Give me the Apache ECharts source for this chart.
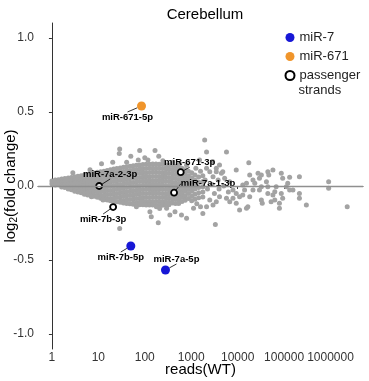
<!DOCTYPE html>
<html><head><meta charset="utf-8">
<script src="https://cdn.jsdelivr.net/npm/echarts@6/dist/echarts.min.js"></script>
<style>html,body{margin:0;padding:0;background:#fff}#c{width:369px;height:381px}</style>
</head><body><div id="c"></div>
<script>
// ---- tick labels ----
const xTickReads = [1, 10, 100, 1000, 10000, 100000, 1000000];
const yTicks = [-1.0, -0.5, 0.0, 0.5, 1.0];

// ---- grey (all miRNAs): dense core, read column by column ----
const greyColumnReads = [1.0,1.18,1.38,1.62,1.9,2.24,2.63,3.09,3.63,4.27,5.0,5.9,6.9,8.1,9.5,11.2,13.2,15.5,18.2,21.4,25,29.5,34.7,40.7,47.9,56.2,66,77.6,91.2,107,126,148,174,204,240,282,331,389,457,537,631,741,871,1023,1202,1445,1778];
const greyColumnFC = [
 [0.034,0.016],
 [0.04,0.022,0.006],
 [0.043,0.025,0.008],
 [0.047,0.027,0.007,-0.006],
 [0.05,0.03,0.01,-0.01],
 [0.054,0.033,0.012,-0.009,-0.02],
 [0.058,0.036,0.014,-0.008,-0.025],
 [0.062,0.04,0.018,-0.004,-0.026,-0.035],
 [0.066,0.043,0.02,-0.003,-0.026,-0.04],
 [0.07,0.046,0.022,-0.002,-0.026,-0.046],
 [0.074,0.05,0.026,0.002,-0.022,-0.046,-0.055],
 [0.078,0.054,0.03,0.006,-0.018,-0.042,-0.06],
 [0.083,0.058,0.033,0.008,-0.017,-0.042,-0.064],
 [0.088,0.063,0.038,0.013,-0.012,-0.037,-0.062,-0.07],
 [0.092,0.066,0.04,0.014,-0.012,-0.038,-0.064,-0.076],
 [0.097,0.07,0.043,0.016,-0.011,-0.038,-0.065,-0.082],
 [0.1,0.073,0.046,0.019,-0.008,-0.035,-0.062,-0.089],
 [0.105,0.078,0.051,0.024,-0.003,-0.03,-0.057,-0.084,-0.095],
 [0.11,0.082,0.054,0.026,-0.002,-0.03,-0.058,-0.086,-0.1],
 [0.114,0.086,0.058,0.03,0.002,-0.026,-0.054,-0.082,-0.105],
 [0.118,0.09,0.062,0.034,0.006,-0.022,-0.05,-0.078,-0.106],
 [0.122,0.094,0.066,0.038,0.01,-0.018,-0.046,-0.074,-0.102,-0.11],
 [0.126,0.098,0.07,0.042,0.014,-0.014,-0.042,-0.07,-0.098,-0.115],
 [0.13,0.102,0.074,0.046,0.018,-0.01,-0.038,-0.066,-0.094,-0.118],
 [0.133,0.105,0.077,0.049,0.021,-0.007,-0.035,-0.063,-0.091,-0.119],
 [0.136,0.108,0.08,0.052,0.024,-0.004,-0.032,-0.06,-0.088,-0.116,-0.124],
 [0.14,0.112,0.084,0.056,0.028,0.0,-0.028,-0.056,-0.084,-0.112,-0.125],
 [0.142,0.114,0.086,0.058,0.03,0.002,-0.026,-0.054,-0.082,-0.11,-0.126],
 [0.145,0.117,0.089,0.061,0.033,0.005,-0.023,-0.051,-0.079,-0.107,-0.127],
 [0.146,0.118,0.09,0.062,0.034,0.006,-0.022,-0.05,-0.078,-0.106,-0.128],
 [0.147,0.119,0.091,0.063,0.035,0.007,-0.021,-0.049,-0.077,-0.105,-0.128],
 [0.148,0.12,0.092,0.064,0.036,0.008,-0.02,-0.048,-0.076,-0.104,-0.128],
 [0.148,0.12,0.092,0.064,0.036,0.008,-0.02,-0.048,-0.076,-0.104,-0.13],
 [0.147,0.119,0.091,0.063,0.035,0.007,-0.021,-0.049,-0.077,-0.105,-0.13],
 [0.146,0.118,0.09,0.062,0.034,0.006,-0.022,-0.05,-0.078,-0.106,-0.13],
 [0.144,0.116,0.088,0.06,0.032,0.004,-0.024,-0.052,-0.08,-0.108,-0.128],
 [0.142,0.114,0.086,0.058,0.03,0.002,-0.026,-0.054,-0.082,-0.11,-0.126],
 [0.138,0.11,0.082,0.054,0.026,-0.002,-0.03,-0.058,-0.086,-0.114],
 [0.134,0.106,0.078,0.05,0.022,-0.006,-0.034,-0.062,-0.09,-0.118],
 [0.128,0.1,0.072,0.044,0.016,-0.012,-0.04,-0.068,-0.096,-0.118],
 [0.12,0.092,0.064,0.036,0.008,-0.02,-0.048,-0.076,-0.104],
 [0.11,0.08,0.05,0.022,-0.008,-0.036,-0.066,-0.096],
 [0.1,0.068,0.04,0.01,-0.02,-0.05,-0.085],
 [0.09,0.055,0.025,-0.005,-0.035,-0.07,-0.1],
 [0.075,0.04,0.01,-0.02,-0.055,-0.09],
 [0.06,0.025,-0.01,-0.045,-0.08],
 [0.07,0.03,-0.005,-0.04,-0.075]
];
// ---- grey: scattered points [reads, log2FC] ----
const greyScattered = [
 [1950,0.31],[2140,0.23],[28.8,0.25],[28.2,0.22],[77.6,0.24],[166,0.24],[72.4,0.175],[11.7,0.15],[20.4,0.16],[40.7,0.16],
 [117,0.175],[245,0.17],[1510,0.175],[2880,0.165],[3470,0.12],[2140,0.12],[2.82,0.09],[6.6,0.11],[5750,0.23],[17400,0.157],
 [44700,0.097],[46800,0.074],[32400,0.074],[29500,0.052],[87100,0.086],[93300,0.052],[131800,0.059],[120000,0.018],[131800,-0.027],[155000,-0.027],
 [214000,-0.05],[214000,-0.083],[302000,-0.128],[912000,0.029],[912000,-0.016],[2290000,-0.14],[87100,-0.05],[93300,-0.083],[79400,-0.117],[79400,-0.15],
 [63100,-0.095],[52500,-0.106],[57500,-0.061],[44700,-0.05],[32400,-0.005],[29500,-0.027],[32400,-0.095],[33900,-0.117],[21400,-0.027],[23400,0.018],
 [16600,-0.14],[15500,-0.15],[11000,-0.162],[9330,-0.117],[6760,-0.106],[18200,-0.072],[12900,-0.061],[14100,-0.027],[12900,0.007],[21400,0.04],
 [1780,-0.185],[3310,-0.26],[4070,0.142],[4790,0.097],[2510,0.097],[2950,0.063],[3470,0.097],[4470,0.086],[5250,0.052],[6760,0.029],
 [7940,-0.027],[9330,-0.05],[11000,-0.072],[7940,-0.083],[5750,-0.083],[4070,-0.072],[3470,-0.106],[2510,-0.095],[2140,-0.14],[2950,-0.128],
 [15500,0.018],[18200,0.074],[27500,0.086],[41700,0.029],[44700,-0.005],[67600,-0.005],[112000,-0.005],[63100,-0.038],[57500,0.108],[214000,0.063],
 [9330,0.108],[28.8,-0.286],[129,-0.174],[138,-0.207],[195,-0.248],[209,-0.151],[347,-0.196],[447,-0.174],[617,-0.196],[794,-0.218],
 [295,-0.15],[7.1,-0.072],[12.6,-0.095],[66,-0.14],[178,-0.14],[50,0.2],[100,0.19],[200,0.2],[398,0.16],[562,0.15],
 [794,0.14],[1260,0.12],[1585,0.1],[1995,0.04],[2240,-0.02],[2820,0.01],[3160,-0.05],[3980,-0.02],[5010,0.0],[6310,-0.04],
 [3800,0.04],[1318,-0.12],[1585,-0.14],[1122,-0.15]
];

// ---- highlighted miRNAs ----
const mir7Names = ['miR-7b-5p', 'miR-7a-5p'];
const mir7Reads = [50, 279];
const mir7FC = [-0.405, -0.567];
const mir671Names = ['miR-671-5p'];
const mir671Reads = [85];
const mir671FC = [0.54];
const passengerNames = ['miR-7a-2-3p', 'miR-7b-3p', 'miR-671-3p', 'miR-7a-1-3p'];
const passengerReads = [10.4, 20.8, 594, 427];
const passengerFC = [0.0, -0.142, 0.093, -0.045];

// label placement (pixel offsets of each label centre from its point)
const labelOffsets = {
  'miR-671-5p': [-14, 11], 'miR-7b-5p': [-10, 11], 'miR-7a-5p': [11, -11],
  'miR-7a-2-3p': [11, -12], 'miR-7b-3p': [-10, 12], 'miR-671-3p': [9, -10], 'miR-7a-1-3p': [34, -9]
};

const FONT = 'Liberation Sans, Arial, Helvetica, sans-serif';
const lg = v => Math.log10(v);

const greyData = [];
greyColumnReads.forEach((r, i) => greyColumnFC[i].forEach(fc => greyData.push([lg(r), fc])));
greyScattered.forEach(p => greyData.push([lg(p[0]), p[1]]));

function pts(names, reads, fc) {
  return names.map((n, i) => ({ name: n, value: [lg(reads[i]), fc[i]] }));
}
function layoutFor(names) {
  return function (p) {
    const o = labelOffsets[names[p.dataIndex]];
    return { dx: o[0], dy: o[1] };
  };
}
const labelStyle = { show: true, position: 'inside', formatter: '{b}', color: '#000', fontWeight: 'bold', fontSize: 9.5, fontFamily: FONT };
const labelLineStyle = { show: true, lineStyle: { color: '#000', width: 0.8 } };

const chart = echarts.init(document.getElementById('c'), null, { renderer: 'canvas' });
chart.setOption({
  animation: false,
  backgroundColor: '#fff',
  title: {
    text: 'Cerebellum', left: 200, top: 2, textAlign: 'center',
    textStyle: { fontSize: 15, fontWeight: 'normal', color: '#000', fontFamily: FONT }
  },
  grid: { left: 38, right: 6, top: 23, bottom: 32, containLabel: false, outerBoundsMode: 'none' },
  legend: {
    orient: 'vertical', left: 284.5, top: 31, itemWidth: 9, itemHeight: 9, itemGap: 6, padding: 0,
    textStyle: { fontSize: 13, color: '#222', fontFamily: FONT },
    data: [{ name: 'miR-7', icon: 'circle' }, { name: 'miR-671', icon: 'circle' }, { name: 'passenger', icon: 'circle' }]
  },
  graphic: [{
    type: 'text', left: 298.5, top: 84,
    style: { text: 'strands', fontSize: 13, fill: '#222', fontFamily: FONT }
  }],
  xAxis: {
    type: 'value', min: -0.30, max: 6.70,
    name: 'reads(WT)', nameLocation: 'middle', nameGap: 13, nameMoveOverlap: false,
    nameTextStyle: { fontSize: 15, color: '#000', fontFamily: FONT, verticalAlign: 'top' },
    axisLine: { lineStyle: { color: '#333', width: 1 } },
    axisTick: { show: true, length: 3, customValues: xTickReads.map(lg), lineStyle: { color: '#333' } },
    axisLabel: {
      customValues: xTickReads.map(lg), margin: 3, fontSize: 12, color: '#333', fontFamily: FONT,
      formatter: v => String(Math.round(Math.pow(10, v)))
    },
    splitLine: { show: false }
  },
  yAxis: {
    type: 'value', min: -1.1, max: 1.1,
    name: 'log{s|2}(fold change)', nameLocation: 'middle', nameGap: 19, nameMoveOverlap: false,
    nameTextStyle: { fontSize: 15, color: '#000', fontFamily: FONT, rich: { s: { fontSize: 10, fontFamily: FONT, color: '#000', padding: [7, 0, 0, 0] } } },
    axisLine: { show: true, lineStyle: { color: '#333', width: 1 } },
    axisTick: { show: true, length: 3, customValues: yTicks, lineStyle: { color: '#333' } },
    axisLabel: {
      customValues: yTicks, margin: 4, fontSize: 12, color: '#333', fontFamily: FONT,
      formatter: v => v.toFixed(1)
    },
    splitLine: { show: false }
  },
  series: [
    {
      name: 'all', type: 'scatter', data: greyData, symbolSize: 5,
      itemStyle: { color: '#a3a3a3', opacity: 1 }, silent: true, z: 1,
      markLine: {
        silent: true, symbol: 'none', label: { show: false },
        lineStyle: { color: '#8f8f8f', width: 1.3, type: 'solid' },
        data: [{ yAxis: 0 }]
      }
    },
    {
      name: 'miR-7', type: 'scatter', data: pts(mir7Names, mir7Reads, mir7FC), symbolSize: 9,
      itemStyle: { color: '#1717d6', opacity: 1 }, z: 3,
      label: labelStyle, labelLine: labelLineStyle, labelLayout: layoutFor(mir7Names)
    },
    {
      name: 'miR-671', type: 'scatter', data: pts(mir671Names, mir671Reads, mir671FC), symbolSize: 9,
      itemStyle: { color: '#f0952b', opacity: 1 }, z: 3,
      label: labelStyle, labelLine: labelLineStyle, labelLayout: layoutFor(mir671Names)
    },
    {
      name: 'passenger', type: 'scatter', data: pts(passengerNames, passengerReads, passengerFC), symbolSize: 6,
      itemStyle: { color: '#fff', borderColor: '#000', borderWidth: 1.8, opacity: 1 }, z: 4,
      label: labelStyle, labelLine: labelLineStyle, labelLayout: layoutFor(passengerNames)
    }
  ]
});
</script>
</body></html>
